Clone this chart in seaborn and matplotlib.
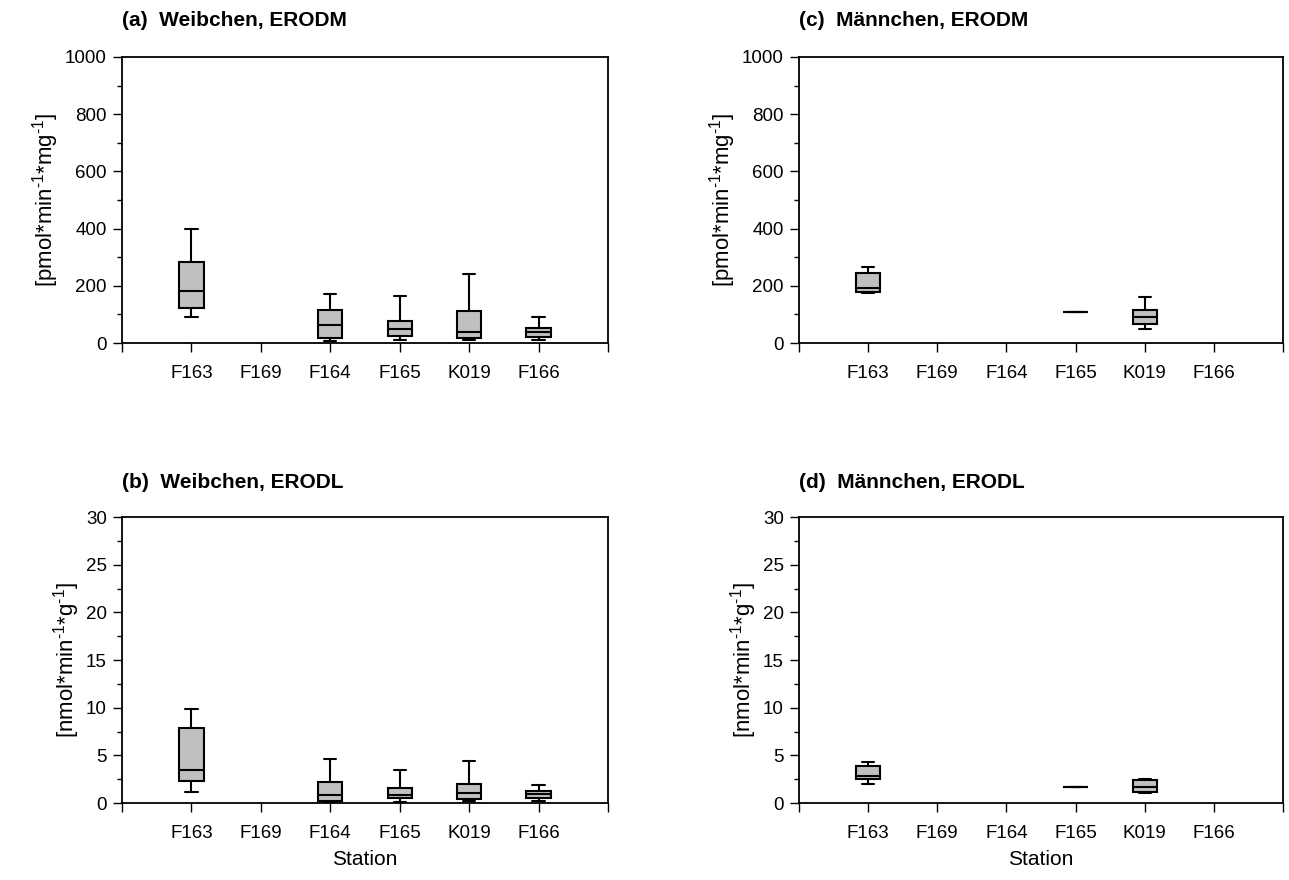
import matplotlib
matplotlib.use("Agg")
import matplotlib.pyplot as plt
from matplotlib.ticker import MultipleLocator
import seaborn as sns
import pandas as pd

# ---- data (five-number summaries: min, Q1, median, Q3, max) ----
stations = ["F163", "F169", "F164", "F165", "K019", "F166"]

# (a) Weibchen, ERODM
a_F163 = [92, 121, 183, 284, 398]
a_F164 = [6, 17, 62, 116, 172]
a_F165 = [10, 26, 48, 78, 164]
a_K019 = [10, 16, 37, 113, 242]
a_F166 = [12, 20, 38, 52, 92]

# (b) Weibchen, ERODL
b_F163 = [1.19, 2.35, 3.43, 7.83, 9.90]
b_F164 = [0.07, 0.17, 0.88, 2.24, 4.65]
b_F165 = [0.10, 0.49, 0.88, 1.61, 3.50]
b_K019 = [0.24, 0.38, 1.08, 2.03, 4.37]
b_F166 = [0.24, 0.49, 0.91, 1.26, 1.89]

# (c) Männchen, ERODM
c_F163 = [176, 180, 192, 244, 267]
c_F165 = [107, 107, 107, 107, 107]
c_K019 = [50, 65, 92, 114, 160]

# (d) Männchen, ERODL
d_F163 = [1.96, 2.52, 2.87, 3.85, 4.30]
d_F165 = [1.71, 1.71, 1.71, 1.71, 1.71]
d_K019 = [1.02, 1.12, 1.71, 2.38, 2.55]

titles = ["(a)  Weibchen, ERODM", "(b)  Weibchen, ERODL",
          "(c)  Männchen, ERODM", "(d)  Männchen, ERODL"]
ylabel_m = r"[pmol*min$^{\text{-1}}$*mg$^{\text{-1}}$]"
ylabel_l = r"[nmol*min$^{\text{-1}}$*g$^{\text{-1}}$]"
xlabel = "Station"


def frame(d):
    rows = []
    for st, vals in d.items():
        for v in vals:
            rows.append({"station": st, "value": v})
    return pd.DataFrame(rows)


panels = [
    frame({"F163": a_F163, "F164": a_F164, "F165": a_F165, "K019": a_K019, "F166": a_F166}),
    frame({"F163": b_F163, "F164": b_F164, "F165": b_F165, "K019": b_K019, "F166": b_F166}),
    frame({"F163": c_F163, "F165": c_F165, "K019": c_K019}),
    frame({"F163": d_F163, "F165": d_F165, "K019": d_K019}),
]

sns.set_style("ticks")
plt.rcParams["font.family"] = ["Liberation Sans", "DejaVu Sans"]
plt.rcParams["mathtext.fontset"] = "custom"
plt.rcParams["mathtext.rm"] = "Liberation Sans"
plt.rcParams["mathtext.default"] = "regular"
plt.rcParams["text.color"] = "black"
plt.rcParams["axes.labelcolor"] = "black"
plt.rcParams["xtick.color"] = "black"
plt.rcParams["ytick.color"] = "black"

fig = plt.figure(figsize=(12.89, 8.80), dpi=100)
W, H = 1289, 880
boxes = [  # left, top, right, bottom in px
    (122, 57, 608, 343),
    (122, 517, 608, 803),
    (799, 57, 1283, 343),
    (799, 517, 1283, 803),
]
title_y = [20, 482, 20, 482]

for i, (df, (l, t, r, b)) in enumerate(zip(panels, boxes)):
    ax = fig.add_axes([l / W, 1 - b / H, (r - l) / W, (b - t) / H])
    sns.boxplot(data=df, x="station", y="value", order=stations, ax=ax,
                whis=(0, 100), width=0.35, color="#c0c0c0", saturation=1,
                linecolor="black", linewidth=1.5, fliersize=0)
    ax.set_xlim(-1, 6)
    ax.set_xticks(range(-1, 7))
    ax.set_xticklabels([""] + stations + [""])
    if i in (0, 2):
        ax.set_ylim(0, 1000)
        ax.yaxis.set_major_locator(MultipleLocator(200))
        ax.yaxis.set_minor_locator(MultipleLocator(100))
        ax.set_ylabel(ylabel_m, fontsize=16, labelpad=3)
        ax.set_xlabel("")
    else:
        ax.set_ylim(0, 30)
        ax.yaxis.set_major_locator(MultipleLocator(5))
        ax.yaxis.set_minor_locator(MultipleLocator(2.5))
        ax.set_ylabel(ylabel_l, fontsize=16, labelpad=3)
        ax.set_xlabel(xlabel, fontsize=15, labelpad=6)
    for s in ax.spines.values():
        s.set_visible(True)
        s.set_linewidth(1.3)
        s.set_color("black")
    ax.tick_params(axis="both", which="major", direction="out", length=6.5,
                   width=1.0, labelsize=13.5, color="black", pad=4.5)
    ax.tick_params(axis="x", which="major", pad=9)
    ax.tick_params(axis="y", which="minor", direction="out", length=3.5, width=1.0)
    ax.set_facecolor("white")
    fig.text(l / W, 1 - title_y[i] / H, titles[i], fontsize=15,
             fontweight="bold", ha="left", va="center")

fig.savefig("out.png", dpi=100, facecolor="white")
